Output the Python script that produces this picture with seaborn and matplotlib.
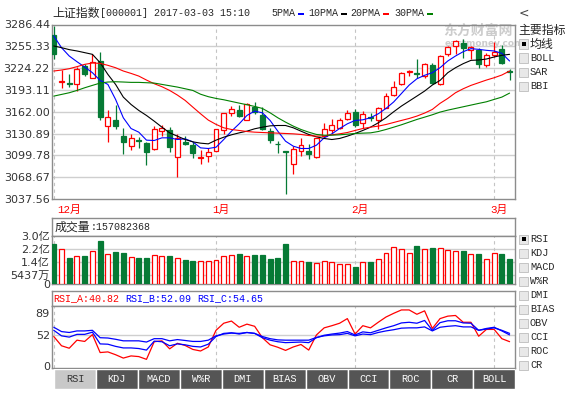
import numpy as np
import pandas as pd
import matplotlib
matplotlib.use("Agg")
import matplotlib.pyplot as plt
import matplotlib.transforms as mtransforms
from matplotlib.patches import Rectangle
import seaborn as sns

# ---------- DATA -----------------------------------------------------------------
# 上证指数 daily candles, 60 sessions from early Dec 2016 to 2017-03-03
opens = [3271.5, 3204.8, 3202.4, 3201.0, 3227.2, 3210.5, 3234.4, 3141.0, 3150.1, 3127.2,
         3113.8, 3121.9, 3117.2, 3109.5, 3134.3, 3135.8, 3097.2, 3119.1, 3114.3, 3096.7,
         3099.5, 3106.7, 3135.3, 3159.6, 3163.9, 3150.1, 3168.6, 3157.2, 3134.3, 3116.7,
         3105.5, 3087.6, 3106.7, 3105.7, 3097.2, 3127.2, 3135.8, 3139.1, 3151.0, 3162.0,
         3145.8, 3154.8, 3149.6, 3167.7, 3185.8, 3201.0, 3218.6, 3216.7, 3212.9, 3228.7,
         3201.0, 3243.9, 3255.8, 3259.6, 3250.1, 3249.6, 3228.2, 3242.9, 3251.0, 3220.1]
highs = [3284.4, 3221.0, 3215.3, 3225.8, 3229.6, 3243.9, 3247.2, 3163.9, 3171.5, 3139.1,
         3129.6, 3126.2, 3119.1, 3141.5, 3143.8, 3140.0, 3129.6, 3127.2, 3119.1, 3108.1,
         3110.5, 3138.1, 3160.5, 3170.1, 3171.5, 3174.0, 3176.4, 3168.6, 3139.1, 3120.0,
         3105.8, 3112.9, 3124.8, 3116.2, 3124.8, 3146.2, 3151.0, 3153.4, 3163.9, 3165.3,
         3162.9, 3160.5, 3168.6, 3189.1, 3205.8, 3219.1, 3221.0, 3236.7, 3232.0, 3232.0,
         3242.5, 3255.8, 3263.9, 3265.3, 3255.8, 3252.5, 3246.3, 3262.0, 3257.2, 3223.4]
lows = [3236.7, 3196.2, 3197.2, 3191.5, 3212.9, 3209.6, 3150.5, 3119.1, 3137.7, 3101.9,
        3107.2, 3110.5, 3085.7, 3108.1, 3127.2, 3104.8, 3069.5, 3114.3, 3096.2, 3087.6,
        3090.4, 3105.7, 3130.5, 3155.8, 3154.3, 3149.6, 3159.1, 3135.3, 3117.7, 3103.4,
        3044.8, 3073.3, 3098.6, 3095.3, 3096.2, 3125.7, 3131.9, 3138.1, 3149.6, 3140.0,
        3139.1, 3148.6, 3136.7, 3166.7, 3184.3, 3200.1, 3212.9, 3209.6, 3210.5, 3201.0,
        3200.1, 3241.5, 3244.8, 3238.2, 3236.7, 3224.8, 3226.3, 3240.5, 3229.6, 3207.2]
closes = [3244.8, 3205.6, 3201.0, 3223.4, 3216.3, 3232.9, 3154.8, 3154.8, 3141.5, 3119.1,
          3124.8, 3120.0, 3105.3, 3138.1, 3139.1, 3111.9, 3123.9, 3116.7, 3103.4, 3097.6,
          3104.3, 3136.7, 3159.6, 3165.3, 3155.8, 3172.5, 3162.0, 3138.1, 3121.0, 3115.3,
          3104.3, 3109.5, 3114.3, 3101.9, 3123.9, 3136.7, 3142.4, 3149.6, 3159.6, 3142.4,
          3158.1, 3153.4, 3167.7, 3184.3, 3197.2, 3217.7, 3219.6, 3215.3, 3229.6, 3203.4,
          3241.5, 3254.4, 3263.0, 3253.4, 3254.4, 3230.6, 3242.9, 3247.7, 3231.0, 3218.6]

ma5 = [3270.1, 3253.4, 3241.5, 3233.4, 3225.8, 3217.7, 3206.7, 3201.0, 3179.6, 3153.4,
       3138.1, 3132.9, 3121.5, 3121.0, 3124.8, 3124.8, 3122.4, 3123.4, 3119.1, 3110.5,
       3109.6, 3111.4, 3122.4, 3134.3, 3144.8, 3156.7, 3162.9, 3160.5, 3149.6, 3134.3,
       3120.0, 3112.9, 3109.6, 3109.6, 3114.3, 3124.8, 3130.5, 3138.1, 3144.8, 3149.6,
       3150.5, 3153.4, 3159.1, 3166.7, 3176.0, 3188.0, 3200.0, 3209.0, 3214.0, 3217.7,
       3224.8, 3234.4, 3241.5, 3247.7, 3252.0, 3251.0, 3249.6, 3248.7, 3245.3, 3234.4]
ma10 = [3255.8, 3253.4, 3250.6, 3248.7, 3246.3, 3243.9, 3232.0, 3215.3, 3201.0, 3182.9,
        3172.4, 3163.9, 3156.7, 3148.6, 3140.0, 3131.9, 3127.2, 3122.4, 3119.1, 3117.2,
        3116.2, 3121.5, 3125.7, 3129.1, 3131.9, 3134.3, 3137.7, 3140.0, 3141.9, 3142.4,
        3142.4, 3139.1, 3134.3, 3129.6, 3126.2, 3123.9, 3122.4, 3123.9, 3127.2, 3131.0,
        3135.3, 3140.0, 3146.2, 3153.4, 3162.0, 3170.1, 3177.2, 3184.3, 3191.5, 3200.1,
        3206.7, 3217.7, 3224.8, 3230.6, 3235.3, 3235.8, 3237.2, 3240.1, 3242.5, 3243.9]
ma20 = [3220.1, 3221.5, 3223.4, 3226.3, 3229.6, 3231.5, 3231.0, 3228.2, 3224.8, 3220.1,
        3216.7, 3212.9, 3207.2, 3202.0, 3197.7, 3192.4, 3185.8, 3178.2, 3168.6, 3159.1,
        3150.1, 3144.0, 3139.1, 3136.7, 3135.3, 3133.8, 3132.9, 3132.4, 3131.9, 3131.5,
        3131.0, 3130.5, 3129.6, 3128.1, 3127.2, 3127.6, 3129.1, 3130.5, 3132.4, 3135.3,
        3138.1, 3140.0, 3141.5, 3143.8, 3146.7, 3149.6, 3152.4, 3155.8, 3160.1, 3165.3,
        3174.0, 3181.0, 3189.1, 3194.8, 3199.6, 3203.4, 3207.2, 3210.5, 3214.4, 3220.1]
ma30 = [3184.3, 3186.7, 3189.1, 3192.4, 3196.2, 3199.6, 3202.9, 3204.4, 3204.8, 3204.4,
        3203.9, 3203.9, 3203.4, 3202.9, 3201.0, 3199.1, 3197.2, 3194.8, 3192.4, 3187.0,
        3183.5, 3181.0, 3179.1, 3176.7, 3174.3, 3172.0, 3169.6, 3166.7, 3160.5, 3153.4,
        3147.2, 3141.5, 3136.7, 3132.9, 3129.6, 3128.6, 3128.6, 3129.1, 3130.0, 3131.0,
        3131.5, 3131.9, 3133.8, 3136.7, 3140.0, 3143.4, 3147.2, 3151.0, 3154.3, 3157.7,
        3161.5, 3164.3, 3166.7, 3169.1, 3171.5, 3173.9, 3176.2, 3179.6, 3182.9, 3188.6]

# volume in 亿 (1e8 shares)
volume = [2.48, 2.17, 1.63, 1.74, 1.74, 2.05, 2.69, 1.86, 2.01, 1.92,
          1.68, 1.63, 1.63, 1.84, 1.74, 1.76, 1.61, 1.51, 1.43, 1.43,
          1.43, 1.49, 1.74, 1.80, 1.86, 1.74, 1.82, 1.82, 1.57, 1.63,
          2.50, 1.43, 1.43, 1.37, 1.30, 1.43, 1.37, 1.24, 1.24, 1.08,
          1.37, 1.37, 1.55, 1.92, 2.34, 2.17, 1.92, 2.36, 2.17, 2.23,
          2.28, 2.11, 2.05, 2.05, 1.86, 1.86, 1.55, 1.92, 1.86, 1.57]

rsi_a = [49.4, 34.0, 29.9, 43.3, 41.2, 52.5, 22.7, 23.8, 19.1, 13.5,
         17.1, 16.0, 11.4, 40.7, 42.2, 28.9, 38.1, 34.5, 27.9, 25.3,
         32.0, 59.7, 71.5, 75.1, 64.8, 70.0, 66.4, 47.4, 35.6, 31.5,
         26.3, 32.0, 36.1, 26.8, 52.0, 63.8, 67.4, 71.5, 79.2, 53.5,
         67.4, 63.8, 73.1, 81.8, 88.0, 93.6, 93.6, 86.4, 92.1, 62.8,
         79.2, 83.3, 84.4, 73.1, 73.1, 49.9, 61.2, 61.2, 45.8, 40.82]
rsi_b = [59.7, 50.5, 48.4, 53.0, 53.0, 56.6, 37.1, 36.6, 33.0, 30.4,
         30.4, 29.4, 26.8, 41.7, 40.7, 34.0, 37.1, 35.6, 33.0, 32.0,
         36.6, 49.4, 54.6, 55.6, 53.5, 56.1, 54.6, 47.4, 43.3, 40.7,
         39.2, 39.7, 40.2, 39.2, 47.4, 51.5, 53.5, 55.1, 57.6, 52.0,
         57.1, 55.6, 59.7, 63.8, 67.4, 72.0, 73.1, 71.5, 76.1, 59.7,
         72.5, 75.6, 75.6, 72.0, 71.5, 59.7, 62.8, 64.8, 58.7, 52.09]
rsi_c = [64.8, 57.6, 56.1, 58.7, 58.7, 59.7, 47.4, 46.9, 44.8, 42.2,
         42.2, 42.2, 40.2, 45.8, 45.8, 42.2, 44.3, 42.8, 41.2, 41.2,
         43.3, 50.5, 53.5, 55.1, 54.6, 56.1, 54.6, 49.4, 45.8, 43.8,
         43.3, 43.3, 43.3, 43.3, 47.9, 50.5, 52.0, 52.5, 54.6, 50.5,
         53.5, 52.5, 56.1, 58.7, 60.7, 63.3, 63.8, 63.8, 65.4, 58.7,
         64.8, 66.4, 67.4, 65.4, 65.4, 59.7, 61.8, 63.8, 59.7, 54.65]

month_starts = [0, 21, 39, 57]
month_labels = ["12月", "1月", "2月", "3月"]
price_ticks = [3037.56, 3068.67, 3099.78, 3130.89, 3162.00, 3193.11, 3224.22, 3255.33, 3286.44]
vol_ticks = [0, 0.5437, 1.4, 2.2, 3.0]
vol_tick_labels = ["0", "5437万", "1.4亿", "2.2亿", "3.0亿"]
rsi_ticks = [0, 52, 89]
ma_names = ["5PMA", "10PMA", "20PMA", "30PMA"]
main_menu = ["均线", "BOLL", "SAR", "BBI"]
sub_menu = ["RSI", "KDJ", "MACD", "W%R", "DMI", "BIAS", "OBV", "CCI", "ROC", "CR"]
tabs = ["RSI", "KDJ", "MACD", "W%R", "DMI", "BIAS", "OBV", "CCI", "ROC", "CR", "BOLL"]

# ---------- STYLE ---------------------------------------------------------------
sns.set_style("white")
plt.rcParams["font.family"] = ["DejaVu Sans", "Noto Sans CJK SC"]
MONO = ["Liberation Mono", "Noto Sans CJK SC"]
CJK = ["Noto Sans CJK SC", "DejaVu Sans"]

W, H = 570, 394
RED, GREEN = "#ff0000", "#067a35"
BORDER, GRID = "#8c8c8c", "#cfcfcf"
ma_colors = {"5PMA": "#0000ff", "10PMA": "#000000", "20PMA": "#ff0000", "30PMA": "#008000"}

fig = plt.figure(figsize=(W / 100, H / 100), dpi=100)


def rect(x0, y0, x1, y1):
    return [x0 / W, 1 - y1 / H, (x1 - x0) / W, (y1 - y0) / H]


def ftext(x, y, s, **kw):
    kw.setdefault("va", "center")
    fig.text(x / W, 1 - y / H, s, **kw)


def fbox(x, y, w, h, **kw):
    fig.add_artist(Rectangle((x / W, 1 - (y + h) / H), w / W, h / H,
                             transform=fig.transFigure, **kw))


def frame(ax):
    for s in ax.spines.values():
        s.set_color(BORDER)
        s.set_linewidth(1)
    ax.set_xticks([])


def data_axes(ax):
    frame(ax)
    ax.set_xlim(-0.23, 59.74)
    ax.set_xlabel("")
    ax.set_ylabel("")
    ax.tick_params(axis="y", length=0, pad=1.5, labelsize=8, labelcolor="#333333")
    for m in month_starts:
        ax.axvline(m, color="#c4c4c4", lw=0.8, ls=(0, (3, 3)), zorder=1)


idx = np.arange(len(closes))
o, c = np.array(opens), np.array(closes)
up = c >= o
edge_cols = [RED if u else GREEN for u in up]
face_cols = ["white" if u else GREEN for u in up]

# ---------- PRICE PANEL ---------------------------------------------------------
ax_p = fig.add_axes(rect(52, 24.5, 515.3, 199))
ax_p.vlines(idx, lows, highs, colors=edge_cols, lw=0.9, zorder=2)
ax_p.bar(idx, np.maximum(np.abs(c - o), 0.6), bottom=np.minimum(o, c), width=0.64,
         color=face_cols, edgecolor=edge_cols, linewidth=0.9, zorder=3)

ma_df = pd.DataFrame({
    "bar": np.tile(idx, 4),
    "value": ma5 + ma10 + ma20 + ma30,
    "line": np.repeat(ma_names, len(idx)),
})
sns.lineplot(data=ma_df, x="bar", y="value", hue="line", palette=ma_colors,
             legend=False, lw=0.8, ax=ax_p, zorder=4)
data_axes(ax_p)
ax_p.set_ylim(price_ticks[0], price_ticks[-1])
ax_p.set_yticks(price_ticks)
ax_p.set_yticklabels([f"{t:.2f}" for t in price_ticks])
for t in price_ticks[1:-1]:
    ax_p.axhline(t, color=GRID, lw=1, zorder=0)

trans = mtransforms.blended_transform_factory(ax_p.transData, ax_p.transAxes)
for pos, lab in zip(month_starts, month_labels):
    x = pos + 0.45 if pos == 0 else pos - 0.5
    ax_p.text(x, -0.063, lab, transform=trans, color=RED, family=MONO, fontsize=7.8,
              ha="left", va="center", clip_on=False)

# watermark
ax_p.text(0.845, 0.962, "东方财富网", transform=ax_p.transAxes, family=CJK, fontsize=10,
          color="#cccccc", fontweight="bold", ha="left", va="center", zorder=1)
ax_p.text(0.848, 0.89, "eastmoney.com", transform=ax_p.transAxes, fontsize=6.5,
          color="#cccccc", fontweight="bold", ha="left", va="center", zorder=1)

# header
ftext(52, 13.5, "上证指数", family=CJK, fontsize=8.6)
ftext(100, 13.5, "[000001] 2017-03-03 15:10", family=MONO, fontsize=7.2)
leg_x = [271, 308, 350, 394]
for x, name in zip(leg_x, ma_names):
    ftext(x, 13.5, name, family=MONO, fontsize=7.2)
    fbox(x + 6 * len(name) + 3, 12.5, 6, 2.6, color=ma_colors[name], lw=0)

# ---------- VOLUME PANEL --------------------------------------------------------
ax_vh = fig.add_axes(rect(52, 218, 515.3, 236))
frame(ax_vh)
ax_vh.set_yticks([])
ftext(55, 227, "成交量", family=CJK, fontsize=8.6)
ftext(91, 227, ":157082368", family=MONO, fontsize=7.2)

ax_v = fig.add_axes(rect(52, 236, 515.3, 284))
ax_v.bar(idx, volume, width=0.64, color=face_cols, edgecolor=edge_cols,
         linewidth=0.9, zorder=3)
data_axes(ax_v)
ax_v.set_ylim(0, 3.0)
ax_v.set_yticks(vol_ticks)
ax_v.set_yticklabels(vol_tick_labels)
for t in vol_ticks[1:-1]:
    ax_v.axhline(t, color=GRID, lw=1, zorder=0)

# ---------- RSI PANEL -----------------------------------------------------------
ax_rh = fig.add_axes(rect(52, 291, 515.3, 305.5))
frame(ax_rh)
ax_rh.set_yticks([])
ftext(53, 298, "RSI_A:40.82", family=MONO, fontsize=7.2, color=RED)
ftext(125, 298, "RSI_B:52.09", family=MONO, fontsize=7.2, color="#0000ff")
ftext(197, 298, "RSI_C:54.65", family=MONO, fontsize=7.2, color="#0000ff")

ax_r = fig.add_axes(rect(52, 305.5, 515.3, 368))
rsi_df = pd.DataFrame({
    "bar": np.tile(idx, 3),
    "value": rsi_a + rsi_b + rsi_c,
    "line": np.repeat(["A", "B", "C"], len(idx)),
})
sns.lineplot(data=rsi_df, x="bar", y="value", hue="line",
             palette={"A": RED, "B": "#0000ff", "C": "#0000ff"},
             legend=False, lw=0.9, ax=ax_r, zorder=4)
data_axes(ax_r)
ax_r.set_ylim(-3, 101)
ax_r.set_yticks(rsi_ticks)
ax_r.axhline(52, color=GRID, lw=1, zorder=0)

# ---------- TAB BAR -------------------------------------------------------------
ax_t = fig.add_axes(rect(54, 369, 515.3, 389))
ax_t.set_xlim(0, len(tabs))
ax_t.set_ylim(0, 1)
ax_t.axis("off")
for i, name in enumerate(tabs):
    sel = i == 0
    ax_t.add_patch(Rectangle((i, 0), 1, 1, facecolor="#c8c8c8" if sel else "#555555",
                             edgecolor="white", lw=1))
    ax_t.text(i + 0.5, 0.5, name, family=MONO, fontsize=7.4, ha="center", va="center",
              color="#333333" if sel else "white")

# ---------- RIGHT MENU ----------------------------------------------------------
ftext(519, 13, "<", fontsize=9, color="#444444")
ftext(518, 30, "主要指标", family=CJK, fontsize=8.6)


def menu(items, y0):
    for k, name in enumerate(items):
        y = y0 + 14 * k
        fbox(519, y - 4.5, 9, 9, facecolor="#e8e8e8", edgecolor="#bdbdbd", lw=0.6)
        if k == 0:
            fbox(521.5, y - 2, 4, 4, facecolor="black", lw=0)
        is_cjk = not name.isascii()
        ftext(530, y, name, family=CJK if is_cjk else MONO,
              fontsize=8.6 if is_cjk else 7.4)


menu(main_menu, 44)
menu(sub_menu, 239)

fig.savefig("out.png", dpi=100)
